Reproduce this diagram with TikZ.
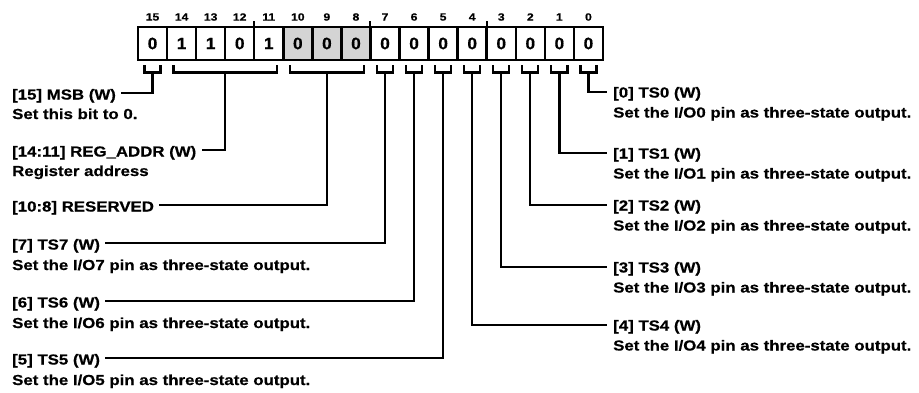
\documentclass[tikz,border=0pt]{standalone}
\usepackage{fontspec}
\usetikzlibrary{calc}
\newfontfamily\labfont{Liberation Sans}[FakeStretch=1.16,FakeBold=0.6]
\newfontfamily\cellfont{Liberation Sans}[FakeStretch=1.05,FakeBold=0.6]
\definecolor{resgray}{RGB}{212,212,212}
\newcommand{\regbrack}[3]{%
  \coordinate (#3L) at ([xshift=6.5pt,yshift=-5pt]c#1.south west);
  \coordinate (#3R) at ([xshift=-6.5pt,yshift=-5pt]c#2.south east);
  \draw[conn] (#3L) -- ([yshift=-7.5pt]#3L) -- ([yshift=-7.5pt]#3R) -- (#3R);
  \coordinate (#3) at ($([yshift=-7.5pt]#3L)!0.5!([yshift=-7.5pt]#3R)$);
}
\begin{document}
\begin{tikzpicture}[x=1pt,y=-1pt,
  cell/.style={draw=black,line width=2.5pt,minimum width=29.06pt,minimum height=33pt,
    inner sep=0pt,outer sep=0pt,font=\cellfont\bfseries\fontsize{16.5}{16.5}\selectfont},
  gcell/.style={cell,fill=resgray},
  bitnum/.style={inner sep=0pt,font=\labfont\bfseries\fontsize{10.5}{11}\selectfont},
  lab/.style={inner sep=0pt,font=\labfont\bfseries\fontsize{14.5}{16}\selectfont},
  conn/.style={line width=2.3pt},
  tick/.style={line width=2pt}]
\useasboundingbox (0,0) rectangle (919,392);
% cells
\foreach \i/\v/\s in {15/0/cell,14/1/cell,13/1/cell,12/0/cell,11/1/cell,10/0/gcell,9/0/gcell,8/0/gcell,
  7/0/cell,6/0/cell,5/0/cell,4/0/cell,3/0/cell,2/0/cell,1/0/cell,0/0/cell}{
  \node[\s] (c\i) at ({138+(15-\i)*29.06+14.53},43.5) {\v};
}
\foreach \i in {0,...,15}{
  \node[bitnum] (n\i) at ([yshift=10pt]c\i.north) {\i};
}
% ticks
\draw[tick] (c11.north west) -- ([yshift=6pt]c11.north west);
\draw[tick] (c7.north west) -- ([yshift=6pt]c7.north west);
\draw[tick] (c3.north west) -- ([yshift=6pt]c3.north west);
% brackets
\regbrack{15}{15}{k15}
\regbrack{14}{11}{k14}
\regbrack{10}{8}{k10}
\foreach \i in {7,...,0}{\regbrack{\i}{\i}{k\i}}
% left labels
\node[lab,anchor=base west] (l15) at (12,99.5) {[15] MSB (W)};
\node[lab,anchor=base west] (d15) at ([yshift=-19.5pt]l15.base west) {Set this bit to 0.};
\node[lab,anchor=base west] (l14) at (12,156.5) {[14:11] REG\_ADDR (W)};
\node[lab,anchor=base west] (d14) at ([yshift=-19.5pt]l14.base west) {Register address};
\node[lab,anchor=base west] (l10) at (12,211.5) {[10:8] RESERVED};
\node[lab,anchor=base west] (l7) at (12,249.5) {[7] TS7 (W)};
\node[lab,anchor=base west] (d7) at ([yshift=-20.5pt]l7.base west) {Set the I/O7 pin as three-state output.};
\node[lab,anchor=base west] (l6) at (12,307.5) {[6] TS6 (W)};
\node[lab,anchor=base west] (d6) at ([yshift=-20.5pt]l6.base west) {Set the I/O6 pin as three-state output.};
\node[lab,anchor=base west] (l5) at (12,364.5) {[5] TS5 (W)};
\node[lab,anchor=base west] (d5) at ([yshift=-20.5pt]l5.base west) {Set the I/O5 pin as three-state output.};
% right labels
\node[lab,anchor=base west] (l0) at (613,97.5) {[0] TS0 (W)};
\node[lab,anchor=base west] (d0) at ([yshift=-20pt]l0.base west) {Set the I/O0 pin as three-state output.};
\node[lab,anchor=base west] (l1) at (613,158.5) {[1] TS1 (W)};
\node[lab,anchor=base west] (d1) at ([yshift=-20pt]l1.base west) {Set the I/O1 pin as three-state output.};
\node[lab,anchor=base west] (l2) at (613,210.5) {[2] TS2 (W)};
\node[lab,anchor=base west] (d2) at ([yshift=-20pt]l2.base west) {Set the I/O2 pin as three-state output.};
\node[lab,anchor=base west] (l3) at (613,272.5) {[3] TS3 (W)};
\node[lab,anchor=base west] (d3) at ([yshift=-20pt]l3.base west) {Set the I/O3 pin as three-state output.};
\node[lab,anchor=base west] (l4) at (613,330.5) {[4] TS4 (W)};
\node[lab,anchor=base west] (d4) at ([yshift=-20pt]l4.base west) {Set the I/O4 pin as three-state output.};
% connectors left
\foreach \k/\l in {k15/l15,k14/l14,k10/l10,k7/l7,k6/l6,k5/l5}{
  \draw[conn] (\k) |- ([xshift=5pt,yshift=6.5pt]\l.base east);
}
% connectors right
\foreach \k/\l in {k0/l0,k1/l1,k2/l2,k3/l3,k4/l4}{
  \draw[conn] (\k) |- ([xshift=-6pt,yshift=5.5pt]\l.base west);
}
\end{tikzpicture}
\end{document}
